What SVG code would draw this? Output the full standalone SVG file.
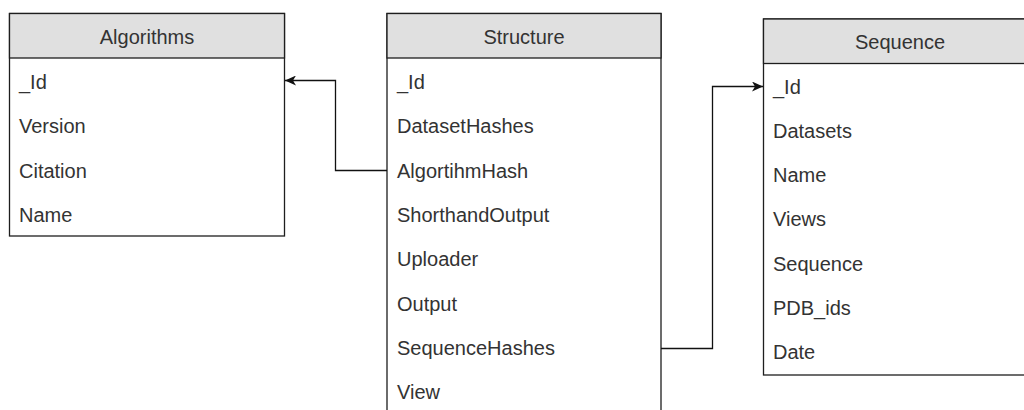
<svg xmlns="http://www.w3.org/2000/svg" width="1024" height="410" viewBox="0 0 1024 410">
  <style>
    .box { fill: #ffffff; stroke: #1e1e1e; stroke-width: 1.3; }
    .head { fill: #e0e0e0; stroke: #1e1e1e; stroke-width: 1.3; }
    .title { font-family: "Liberation Sans", Arial, sans-serif; font-size: 20px; fill: #333333; text-anchor: middle; }
    .field { font-family: "Liberation Sans", Arial, sans-serif; font-size: 20px; fill: #333333; }
    .link { fill: none; stroke: #111111; stroke-width: 1.3; }
  </style>
  <defs>
    <marker id="arrow" markerUnits="userSpaceOnUse" markerWidth="12" markerHeight="10" refX="11" refY="5" orient="auto">
      <path d="M0,0 L11,5 L0,10 L3,5 Z" fill="#111111"/>
    </marker>
  </defs>
  <rect width="1024" height="410" fill="#ffffff"/>

  <!-- Algorithms table -->
  <g id="algorithms">
    <rect class="box" x="9.5" y="13.5" width="275" height="222.5"/>
    <rect class="head" x="9.5" y="13.5" width="275" height="44.5"/>
    <text class="title" x="147" y="43.5">Algorithms</text>
    <text class="field" x="19" y="89">_Id</text>
    <text class="field" x="19" y="133.3">Version</text>
    <text class="field" x="19" y="177.6">Citation</text>
    <text class="field" x="19" y="221.9">Name</text>
  </g>

  <!-- Structure table -->
  <g id="structure">
    <rect class="box" x="387" y="13.5" width="274" height="404"/>
    <rect class="head" x="387" y="13.5" width="274" height="44.5"/>
    <text class="title" x="524" y="43.5">Structure</text>
    <text class="field" x="397" y="89">_Id</text>
    <text class="field" x="397" y="133.3">DatasetHashes</text>
    <text class="field" x="397" y="177.6">AlgortihmHash</text>
    <text class="field" x="397" y="221.9">ShorthandOutput</text>
    <text class="field" x="397" y="266.2">Uploader</text>
    <text class="field" x="397" y="310.5">Output</text>
    <text class="field" x="397" y="354.8">SequenceHashes</text>
    <text class="field" x="397" y="399.1">View</text>
  </g>

  <!-- Sequence table -->
  <g id="sequence">
    <rect class="box" x="763.5" y="19" width="274" height="356"/>
    <rect class="head" x="763.5" y="19" width="274" height="44.5"/>
    <text class="title" x="900" y="48.5">Sequence</text>
    <text class="field" x="773" y="93.5">_Id</text>
    <text class="field" x="773" y="137.8">Datasets</text>
    <text class="field" x="773" y="182.1">Name</text>
    <text class="field" x="773" y="226.4">Views</text>
    <text class="field" x="773" y="270.7">Sequence</text>
    <text class="field" x="773" y="315">PDB_ids</text>
    <text class="field" x="773" y="359.3">Date</text>
  </g>

  <!-- Connectors -->
  <g id="connectors">
    <path class="link" d="M387,170.5 H335.5 V80.5 H285" marker-end="url(#arrow)"/>
    <path class="link" d="M661,348.5 H712.5 V86.5 H763" marker-end="url(#arrow)"/>
  </g>
</svg>
